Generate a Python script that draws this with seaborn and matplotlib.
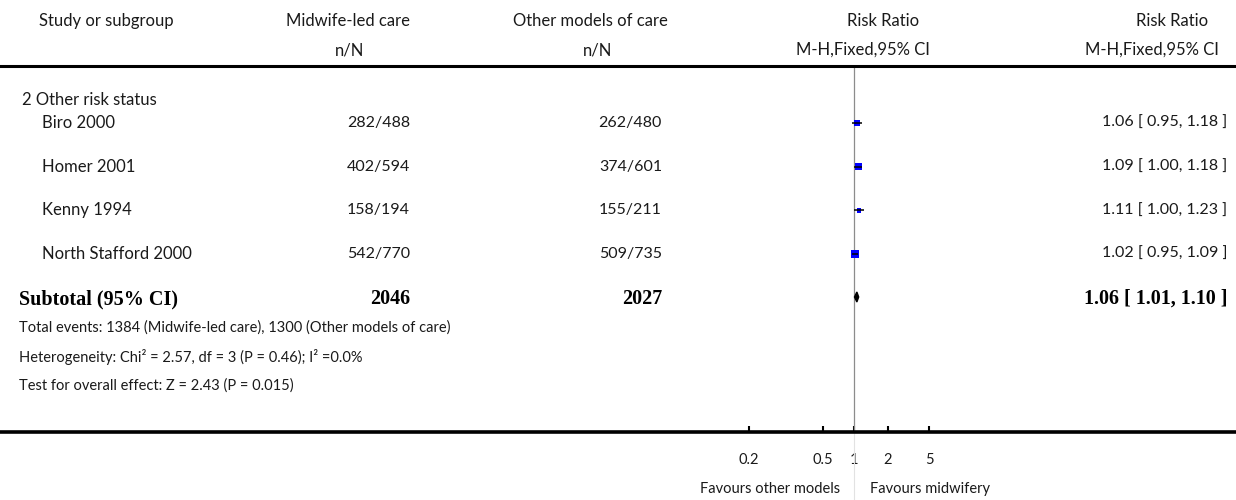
import numpy as np
import pandas as pd
import matplotlib.pyplot as plt
import seaborn as sns

# Forest plot data
studies = ["Biro 2000", "Homer 2001", "Kenny 1994", "North Stafford 2000"]
mw_events = [282, 402, 158, 542]
mw_total = [488, 594, 194, 770]
oth_events = [262, 374, 155, 509]
oth_total = [480, 601, 211, 735]
rr = [1.06, 1.09, 1.11, 1.02]
ci_low = [0.95, 1.00, 1.00, 0.95]
ci_high = [1.18, 1.18, 1.23, 1.09]
weights = [20.2, 28.5, 11.4, 39.9]
pooled_rr, pooled_low, pooled_high = 1.06, 1.01, 1.10
chi2, het_df, het_p, i2 = 2.57, 3, 0.46, 0.0
z_value, z_p = 2.43, 0.015
ticks = [0.2, 0.5, 1, 2, 5]
tick_labels = ["0.2", "0.5", "1", "2", "5"]

sns.set_theme(style="white")
plt.rcParams["font.family"] = ["Lato", "DejaVu Sans"]

W, H = 1236, 500
TXT = "#1a1a1a"
BODY = 12
NUM = 11.5
FOOT = 10.5
BOLD = dict(family=["Liberation Serif", "DejaVu Serif"], fontweight="bold", fontsize=14.5, color="black")

fig = plt.figure(figsize=(W / 100, H / 100), dpi=100)

# text layer in pixel units
txt = fig.add_axes([0, 0, 1, 1])
txt.set_xlim(0, W)
txt.set_ylim(H, 0)
txt.axis("off")

# forest layer: rows between header line and axis line
top_line, axis_line = 66, 432
ax = fig.add_axes([0, (H - axis_line) / H, 1, (axis_line - top_line) / H])
ax.patch.set_alpha(0)

# piecewise log scale following the reference tick spacing
anchor_log = np.log10([1e-10, 0.2, 0.5, 1, 2, 5, 1e10])
anchor_px = [-274, 749, 823, 854, 888, 929, 1952]


def fwd(x):
    x = np.clip(np.asarray(x, dtype=float), 1e-12, None)
    return np.interp(np.log10(x), anchor_log, anchor_px)


def inv(p):
    return 10 ** np.interp(p, anchor_px, anchor_log)


ax.set_xscale("function", functions=(fwd, inv))

row_y = [123 + 43.7 * i for i in range(len(studies))]
sub_y = 297

df = pd.DataFrame({"rr": rr, "y": row_y, "w": weights})
k = 0.9
sns.scatterplot(data=df, x="rr", y="y", size="w",
                sizes=(k * min(weights), k * max(weights)),
                size_norm=(min(weights), max(weights)),
                marker="s", color="#0000ff", linewidth=0,
                legend=False, ax=ax, zorder=2)
ax.hlines(row_y, ci_low, ci_high, color="black", lw=1.1, zorder=3)

# pooled diamond
ax.fill([pooled_low, pooled_rr, pooled_high, pooled_rr],
        [sub_y, sub_y - 5, sub_y, sub_y + 5], color="black", zorder=3)

ax.axvline(1, color="#8c8c8c", lw=0.9, zorder=1)
ax.plot([1, 1], [axis_line, H], color="#e2e2e2", lw=0.8, clip_on=False)

ax.set_xlim(inv(0), inv(W))
ax.set_ylim(axis_line, top_line)
ax.set_xticks(ticks)
ax.set_xticklabels(tick_labels)
ax.xaxis.set_minor_locator(plt.NullLocator())
ax.set_yticks([])
ax.set_xlabel("")
ax.set_ylabel("")
ax.tick_params(axis="x", direction="in", length=4, width=1.5, pad=15,
               labelsize=FOOT, labelcolor=TXT, colors="black", bottom=True)
for side in ["left", "right"]:
    ax.spines[side].set_visible(False)
ax.spines["top"].set_linewidth(2.2)
ax.spines["bottom"].set_linewidth(2.6)
ax.spines["top"].set_color("black")
ax.spines["bottom"].set_color("black")

# headers
h1, h2 = 21, 50
txt.text(106, h1, "Study or subgroup", ha="center", va="center", fontsize=BODY, color=TXT)
txt.text(410, h1, "Midwife-led care", ha="right", va="center", fontsize=BODY, color=TXT)
txt.text(350, h2, "n/N", ha="center", va="center", fontsize=BODY, color=TXT)
txt.text(668, h1, "Other models of care", ha="right", va="center", fontsize=BODY, color=TXT)
txt.text(598, h2, "n/N", ha="center", va="center", fontsize=BODY, color=TXT)
txt.text(883, h1, "Risk Ratio", ha="center", va="center", fontsize=BODY, color=TXT)
txt.text(863, h2, "M-H,Fixed,95% CI", ha="center", va="center", fontsize=BODY, color=TXT)
txt.text(1172, h1, "Risk Ratio", ha="center", va="center", fontsize=BODY, color=TXT)
txt.text(1152, h2, "M-H,Fixed,95% CI", ha="center", va="center", fontsize=BODY, color=TXT)

# subgroup and studies
txt.text(22, 100, "2 Other risk status", ha="left", va="center", fontsize=BODY, color=TXT)
for i, name in enumerate(studies):
    y = row_y[i]
    txt.text(42, y, name, ha="left", va="center", fontsize=BODY, color=TXT)
    txt.text(410, y, f"{mw_events[i]}/{mw_total[i]}", ha="right", va="center", fontsize=NUM, color=TXT)
    txt.text(662, y, f"{oth_events[i]}/{oth_total[i]}", ha="right", va="center", fontsize=NUM, color=TXT)
    txt.text(1227, y, f"{rr[i]:.2f} [ {ci_low[i]:.2f}, {ci_high[i]:.2f} ]",
             ha="right", va="center", fontsize=NUM, color=TXT)

txt.text(19, sub_y + 2, "Subtotal (95% CI)", ha="left", va="center", **BOLD)
txt.text(410, sub_y + 2, f"{sum(mw_total)}", ha="right", va="center", **BOLD)
txt.text(662, sub_y + 2, f"{sum(oth_total)}", ha="right", va="center", **BOLD)
txt.text(1227, sub_y + 2, f"{pooled_rr:.2f} [ {pooled_low:.2f}, {pooled_high:.2f} ]",
         ha="right", va="center", **BOLD)

# footnotes
txt.text(19, 328, f"Total events: {sum(mw_events)} (Midwife-led care), {sum(oth_events)} (Other models of care)",
         ha="left", va="center", fontsize=FOOT, color=TXT)
txt.text(19, 357, f"Heterogeneity: Chi² = {chi2:.2f}, df = {het_df} (P = {het_p:.2f}); I² ={i2:.1f}%",
         ha="left", va="center", fontsize=FOOT, color=TXT)
txt.text(19, 386, f"Test for overall effect: Z = {z_value:.2f} (P = {z_p})",
         ha="left", va="center", fontsize=FOOT, color=TXT)

# favours labels
txt.text(840, 489, "Favours other models", ha="right", va="center", fontsize=FOOT, color=TXT)
txt.text(870, 489, "Favours midwifery", ha="left", va="center", fontsize=FOOT, color=TXT)

plt.savefig("out.png", dpi=100)
plt.close()
